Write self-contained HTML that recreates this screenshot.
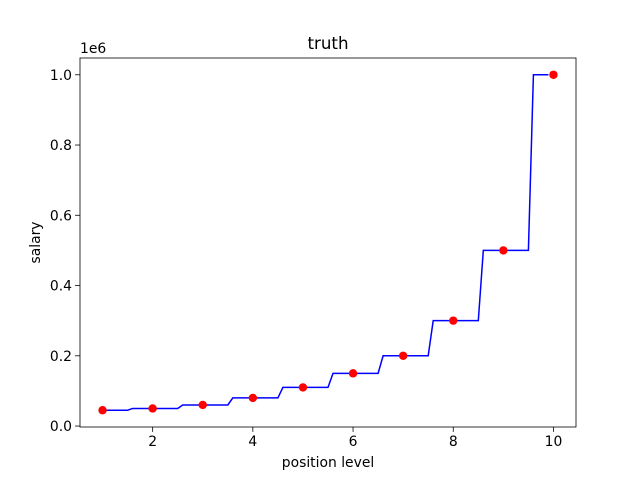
<!DOCTYPE html>
<html><head><meta charset="utf-8"><style>
body{margin:0;background:#fff}
svg{font-family:"DejaVu Sans","Liberation Sans",sans-serif}
</style></head><body>
<svg id="chart" width="640" height="480"></svg>
<script>
const levels=[1,2,3,4,5,6,7,8,9,10];
const salaries=[45000,50000,60000,80000,110000,150000,200000,300000,500000,1000000];
const xTicks=[2,4,6,8,10];
const yTicks=[0,0.2,0.4,0.6,0.8,1.0];
const L=80,R=576,T=58,B=427;
const xmin=0.55,xmax=10.45,ymin=-2750,ymax=1047750;
const X=v=>L+(v-xmin)/(xmax-xmin)*(R-L);
const Y=v=>B-(v-ymin)/(ymax-ymin)*(B-T);
const svg=document.getElementById('chart');
const NS='http://www.w3.org/2000/svg';
function el(t,a,p){const e=document.createElementNS(NS,t);for(const k in a)e.setAttribute(k,a[k]);(p||svg).appendChild(e);return e;}
const pts=[];
for(let i=0;;i++){const x=+(levels[0]+i*0.1).toFixed(1);if(x>=levels[levels.length-1]-1e-9)break;
 let idx=0;for(let j=0;j<levels.length-1;j++){if(x>(levels[j]+levels[j+1])/2+1e-9)idx=j+1;}
 pts.push(X(x).toFixed(2)+','+Y(salaries[idx]).toFixed(2));}
const line=el('polyline',{points:pts.join(' '),fill:'none',stroke:'#0000ff','stroke-width':1.5});


levels.forEach((lv,i)=>{const c=el('circle',{cx:X(lv),cy:Y(salaries[i]),r:4.2,fill:'#ff0000'});
 
 });
const frame=el('rect',{x:L,y:T,width:R-L,height:B-T,fill:'none',stroke:'#000','stroke-width':0.8});


xTicks.forEach(t=>{const x=X(t);el('line',{x1:x,x2:x,y1:B,y2:B+4.9,stroke:'#000','stroke-width':0.8});
 const tx=el('text',{x:x,y:B+19,'text-anchor':'middle','font-size':13.9});tx.textContent=t;
 
 });
yTicks.forEach(t=>{const y=Y(t*1e6);el('line',{x1:L,x2:L-4.9,y1:y,y2:y,stroke:'#000','stroke-width':0.8});
 const tx=el('text',{x:L-8,y:y+5,'text-anchor':'end','font-size':13.9});tx.textContent=t.toFixed(1);
 
 });
const off=el('text',{x:L,y:T-5,'font-size':13.9});off.textContent='1e6';


const title=el('text',{x:(L+R)/2,y:T-9,'text-anchor':'middle','font-size':16.7});title.textContent='truth';


const xl=el('text',{x:(L+R)/2,y:467,'text-anchor':'middle','font-size':13.9});xl.textContent='position level';


const yl=el('text',{x:40,y:(T+B)/2,'text-anchor':'middle','font-size':13.9,transform:`rotate(-90 40 ${(T+B)/2})`});yl.textContent='salary';


</script>
</body></html>
